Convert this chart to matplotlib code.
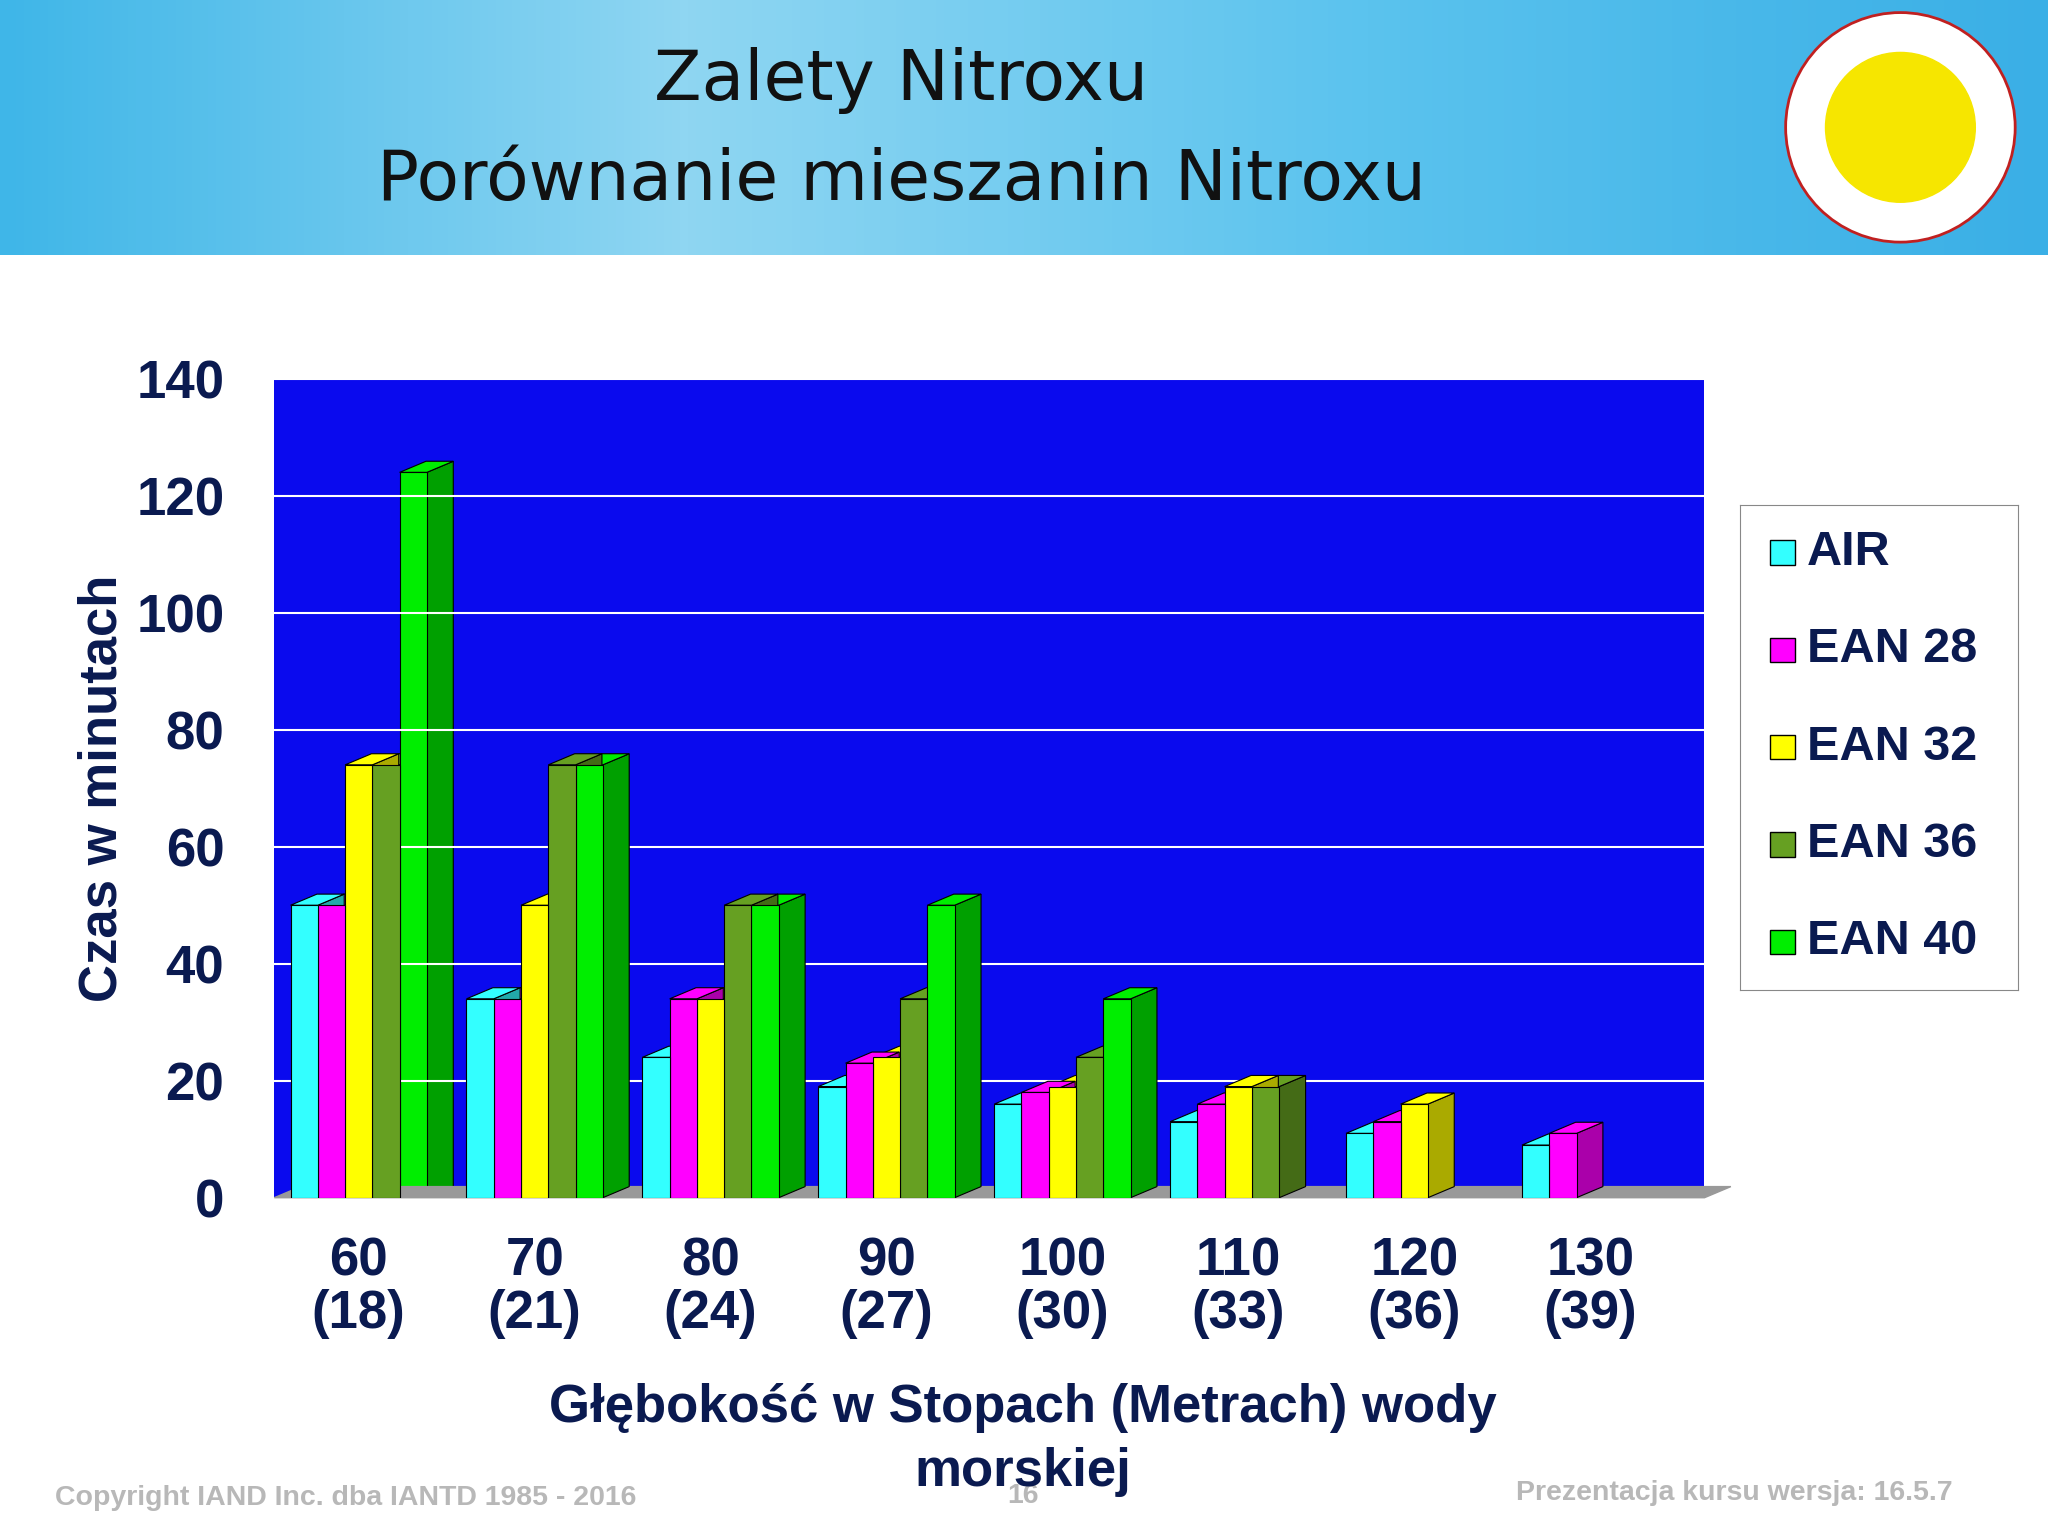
import matplotlib
matplotlib.use("Agg")
import matplotlib.pyplot as plt
import numpy as np
from matplotlib.patches import Polygon, Rectangle, Circle

plt.rcParams['font.family'] = ['Liberation Sans', 'DejaVu Sans']

categories = ["60\n(18)", "70\n(21)", "80\n(24)", "90\n(27)", "100\n(30)", "110\n(33)", "120\n(36)", "130\n(39)"]
series_names = ["AIR", "EAN 28", "EAN 32", "EAN 36", "EAN 40"]
air   = [50, 34, 24, 19, 16, 13, 11, 9]
ean28 = [50, 34, 34, 23, 18, 16, 13, 11]
ean32 = [74, 50, 34, 24, 19, 19, 16, None]
ean36 = [74, 74, 50, 34, 24, 19, None, None]
ean40 = [124, 74, 50, 50, 34, None, None, None]
series = [air, ean28, ean32, ean36, ean40]
front = ["#33FFFF", "#FF00FF", "#FFFF00", "#66A022", "#00EE00"]
side  = ["#22AAAA", "#AA00AA", "#AAAA00", "#446B16", "#00A000"]

W, H = 1568, 1176
fig = plt.figure(figsize=(20.48, 15.36), dpi=100)
fig.patch.set_facecolor("white")

hb = fig.add_axes([0, 1 - 195 / H, 1, 195 / H])
grad = np.linspace(0, 1, 256).reshape(1, -1)
hb.imshow(np.vstack([grad, grad]), aspect="auto", cmap=matplotlib.colors.LinearSegmentedColormap.from_list("b", ["#3FB6E8", "#8FD6F2", "#5BC3EE", "#3AAFE6"]), extent=[0, 1, 0, 1])
hb.axis("off")
fig.text(690 / W, 1 - 62 / H, "Zalety Nitroxu", ha="center", va="center", fontsize=50, color="#111111", family="DejaVu Sans")
fig.text(690 / W, 1 - 138 / H, "Porównanie mieszanin Nitroxu", ha="center", va="center", fontsize=50, color="#111111", family="DejaVu Sans")
lg = fig.add_axes([1360 / W, 1 - 190 / H, 190 / W, 185 / H])
lg.set_xlim(-1, 1); lg.set_ylim(-1, 1); lg.set_aspect("equal"); lg.axis("off")
lg.add_patch(Circle((0, 0), 0.95, color="white"))
lg.add_patch(Circle((0, 0), 0.62, color="#F6E600"))
lg.add_patch(Circle((0, 0), 0.95, fill=False, ec="#C02020", lw=2))

ax = fig.add_axes([210 / W, 1 - 917 / H, (1305 - 210) / W, (917 - 290) / H])
ax.set_facecolor("#0A0AEE")
n = len(categories)
x = np.arange(n)
bw = 0.155
dx, dy = 0.15, 1.9
ax.set_xlim(-0.48, n - 0.35)
ax.set_ylim(0, 140)
ax.set_yticks(range(0, 141, 20))
ax.yaxis.grid(True, color="white", lw=1.5)
ax.set_axisbelow(True)
ax.add_patch(Polygon([[-0.48, 0], [n - 0.35, 0], [n - 0.35 + dx, dy], [-0.48 + dx, dy]], closed=True, color="#999999", zorder=1, clip_on=False))
for i, s in enumerate(series):
    for j, v in enumerate(s):
        if v is None:
            continue
        x0 = x[j] - 2.5 * bw + i * bw
        ax.add_patch(Polygon([[x0 + bw, 0], [x0 + bw + dx, dy], [x0 + bw + dx, v + dy], [x0 + bw, v]], closed=True, fc=side[i], ec="black", lw=0.8, zorder=3 + j * 10 - i))
        ax.add_patch(Polygon([[x0, v], [x0 + dx, v + dy], [x0 + bw + dx, v + dy], [x0 + bw, v]], closed=True, fc=front[i], ec="black", lw=0.8, zorder=3 + j * 10 - i))
        ax.add_patch(Rectangle((x0, 0), bw, v, fc=front[i], ec="black", lw=0.8, zorder=4 + j * 10 - i))
ax.set_xticks(x)
ax.set_xticklabels(categories)
ax.tick_params(axis="y", labelsize=38, colors="#0A1A50", length=0, pad=36)
ax.tick_params(axis="x", labelsize=38, colors="#0A1A50", length=0, pad=28)
for t in ax.get_yticklabels():
    t.set_fontweight("bold")
for t in ax.get_xticklabels():
    t.set_fontweight("bold"); t.set_linespacing(1.05)
for sp in ax.spines.values():
    sp.set_visible(False)
ax.set_ylabel("Czas w minutach", fontsize=38, fontweight="bold", color="#0A1A50", labelpad=6)
fig.text(783 / W, 1 - 1078 / H, "Głębokość w Stopach (Metrach) wody", ha="center", va="center", fontsize=38, fontweight="bold", color="#0A1A50")
fig.text(783 / W, 1 - 1127 / H, "morskiej", ha="center", va="center", fontsize=38, fontweight="bold", color="#0A1A50", zorder=5)

la = fig.add_axes([1332 / W, 1 - 758 / H, 213 / W, 371 / H])
la.set_xlim(0, 1); la.set_ylim(0, 1); la.set_xticks([]); la.set_yticks([])
for sp in la.spines.values():
    sp.set_color("#888888")
for i, name in enumerate(series_names):
    yy = 1 - (423 + i * 74.5 - 387) / 371
    la.add_patch(Rectangle((0.11, yy - 0.025), 0.09, 0.05, fc=front[i], ec="black", lw=1))
    la.text(0.24, yy, name, va="center", fontsize=35, fontweight="bold", color="#0A1A50")

fig.text(42 / W, 1 - 1147 / H, "Copyright IAND Inc. dba IANTD 1985 - 2016", fontsize=20.5, fontweight="bold", color="#B8B8B8", va="center")
fig.text(1495 / W, 1 - 1143 / H, "Prezentacja kursu wersja: 16.5.7", fontsize=20.5, fontweight="bold", color="#B8B8B8", va="center", ha="right")
fig.text(783 / W, 1 - 1145 / H, "16", fontsize=20.5, fontweight="bold", color="#B8B8B8", va="center", ha="center", zorder=-1)
fig.savefig("out.png", dpi=100)
